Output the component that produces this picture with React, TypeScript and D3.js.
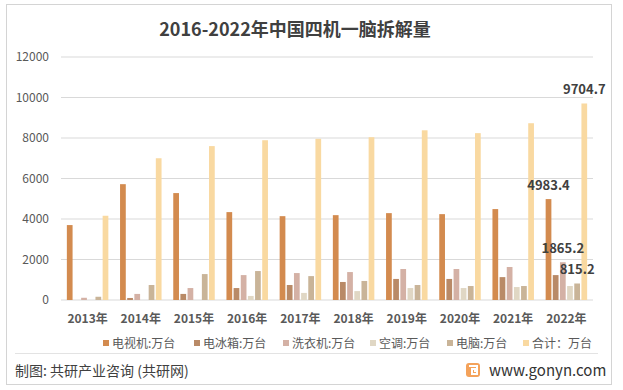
import React from 'react'
import * as d3 from 'd3'

const years = ['2013年', '2014年', '2015年', '2016年', '2017年', '2018年', '2019年', '2020年', '2021年', '2022年']
const seriesNames = ['电视机:万台', '电冰箱:万台', '洗衣机:万台', '空调:万台', '电脑:万台', '合计：万台']
const tv = [3700, 5720, 5280, 4340, 4140, 4190, 4290, 4240, 4490, 4983.4]
const fridge = [0, 100, 300, 590, 740, 890, 1040, 1040, 1130, 1230]
const washer = [110, 300, 590, 1230, 1330, 1380, 1530, 1530, 1630, 1865.2]
const aircon = [0, 0, 0, 200, 350, 440, 590, 590, 640, 690]
const computer = [160, 740, 1280, 1430, 1180, 940, 740, 690, 690, 815.2]
const total = [4160, 7000, 7600, 7890, 7960, 8040, 8380, 8240, 8730, 9704.7]
const yTicks = [0, 2000, 4000, 6000, 8000, 10000, 12000]
// only the last year carries value labels, and only for these series
const labelled = ['电视机:万台', '洗衣机:万台', '电脑:万台', '合计：万台']

const colors = ['#d38b4f', '#b98a67', '#d4b1a5', '#e0d7c4', '#c9b498', '#f9d9a1']
const allSeries = [tv, fridge, washer, aircon, computer, total]

const W = 623
const H = 390
const plot = { left: 61, right: 593, top: 57, bottom: 300 }
const font = '"Noto Sans CJK SC", "Noto Sans", sans-serif'

export default function App() {
  const x0 = d3.scaleBand<string>().domain(years).range([plot.left, plot.right])
  const bw = x0.bandwidth()
  const x1 = d3.scaleBand<string>().domain(seriesNames).range([bw * 0.11, bw * 0.89]).paddingInner(0.2)
  const y = d3.scaleLinear().domain([0, 12000]).range([plot.bottom, plot.top])
  const legendX = [103, 194, 283, 370, 447, 523]
  const last = years[years.length - 1]

  return (
    <svg width={W} height={H} style={{ position: 'absolute', left: 0, top: 0, background: '#fff' }} fontFamily={font}>
      <rect x={6.5} y={4.5} width={605} height={380} fill="#fff" stroke="#d4d4d4" />
      <text x={295} y={36} textAnchor="middle" fontSize={18} fontWeight="bold" fill="#404040">
        2016-2022年中国四机一脑拆解量
      </text>
      {yTicks.map(t => (
        <g key={t}>
          <line x1={plot.left} x2={plot.right} y1={y(t)} y2={y(t)} stroke="#d9d9d9" strokeWidth={1} />
          <text x={49} y={y(t) + 4} textAnchor="end" fontSize={12} fill="#595959">{t}</text>
        </g>
      ))}
      {years.map((yr, i) => (
        <g key={yr} transform={`translate(${x0(yr)},0)`}>
          {seriesNames.map((s, k) => (
            allSeries[k][i] > 0 ? (
              <rect key={s} x={x1(s)} y={y(allSeries[k][i])} width={x1.bandwidth()}
                height={plot.bottom - y(allSeries[k][i])} fill={colors[k]} />
            ) : null
          ))}
          <text x={bw / 2} y={323} textAnchor="middle" fontSize={12} fontWeight="bold" fill="#595959">{yr}</text>
        </g>
      ))}
      {labelled.map(s => {
        const k = seriesNames.indexOf(s)
        const v = allSeries[k][years.length - 1]
        return (
          <text key={s} x={(x0(last) as number) + (x1(s) as number) + x1.bandwidth() / 2} y={y(v) - 9.5}
            textAnchor="middle" fontSize={13} fontWeight="bold" fill="#404040">{v.toFixed(1)}</text>
        )
      })}
      {seriesNames.map((s, k) => (
        <g key={s} transform={`translate(${legendX[k]},343)`}>
          <rect x={0} y={-3} width={6} height={6} fill={colors[k]} />
          <text x={9} y={4.5} fontSize={12} fill="#595959">{s}</text>
        </g>
      ))}
      <line x1={15} x2={598} y1={353.5} y2={353.5} stroke="#e3e3e3" />
      <text x={15} y={376} fontSize={14} fill="#404040">制图: 共研产业咨询 (共研网)</text>
      <g transform="translate(466,363)">
        <rect x={0} y={0} width={14} height={14} rx={3} fill="#f4a25a" />
        <path d="M3,3 H11 V6 H6 V11 H11 V8 H8" fill="none" stroke="#fff" strokeWidth={2} />
      </g>
      <text x={489} y={376} fontSize={15} fill="#333">www.gonyn.com</text>
    </svg>
  )
}
